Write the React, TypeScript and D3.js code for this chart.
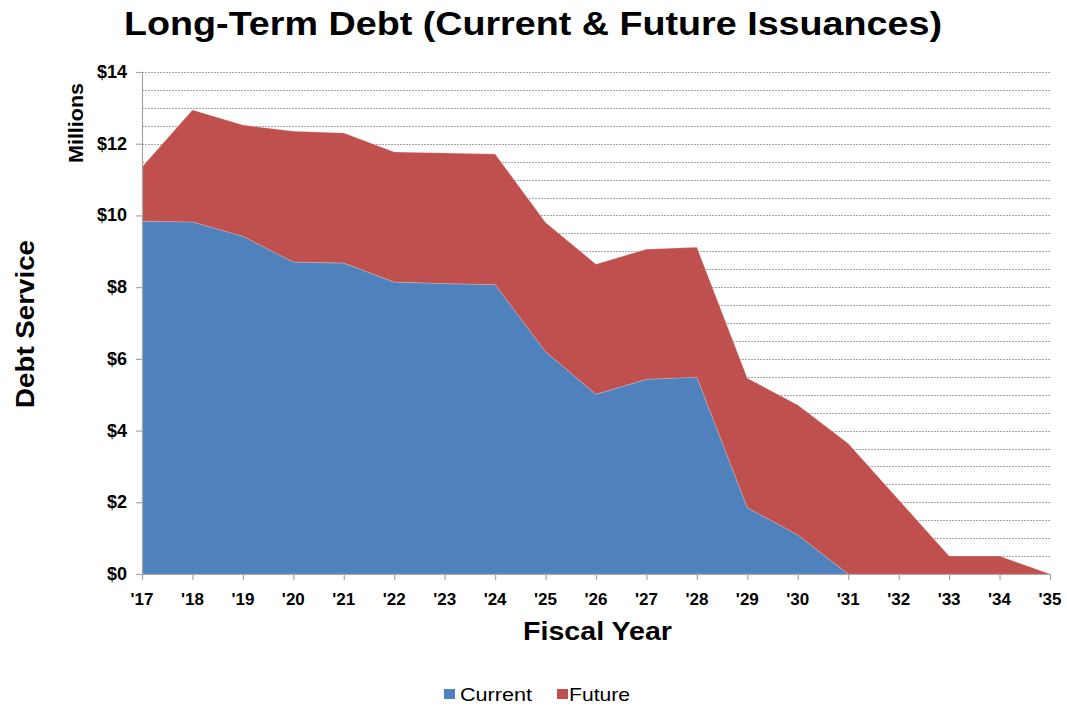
import React from "react";
import * as d3 from "d3";

const years = ["'17", "'18", "'19", "'20", "'21", "'22", "'23", "'24", "'25", "'26", "'27", "'28", "'29", "'30", "'31", "'32", "'33", "'34", "'35"];
const current = [9.84, 9.82, 9.42, 8.7, 8.67, 8.14, 8.1, 8.07, 6.2, 5.01, 5.43, 5.49, 1.85, 1.09, 0, 0, 0, 0, 0];
const future = [1.51, 3.12, 3.1, 3.65, 3.63, 3.63, 3.64, 3.64, 3.6, 3.63, 3.63, 3.62, 3.61, 3.62, 3.64, 2.07, 0.5, 0.5, 0];
const yMajorTicks = [0, 2, 4, 6, 8, 10, 12, 14];
const seriesNames = ["Current", "Future"];
const seriesColors = ["#4F81BD", "#C0504D"];

const W = 1067, H = 706;
const L = 142, R = 1050, T = 72, B = 574;
const FONT = "Liberation Sans, Arial, sans-serif";

export default function App() {
  const x = d3.scalePoint<string>().domain(years).range([L, R]);
  const y = d3.scaleLinear().domain([0, 14]).range([B, T]);
  const rows = years.map((yr, i) => ({ yr, Current: current[i], Future: future[i] }));
  const stack = d3.stack<any>().keys(seriesNames)(rows);
  const area = d3.area<any>()
    .x((d) => x(d.data.yr) as number)
    .y0((d) => y(d[0]))
    .y1((d) => y(d[1]));
  const minor = d3.range(0.5, 14.01, 0.5);

  return (
    <svg width={W} height={H} style={{ position: "absolute", left: 0, top: 0 }} fontFamily={FONT}>
      <rect width={W} height={H} fill="#fff" />
      <text x={533} y={35} textAnchor="middle" fontSize={33} fontWeight="bold" textLength={818} lengthAdjust="spacingAndGlyphs">
        Long-Term Debt (Current &amp; Future Issuances)
      </text>
      {minor.map((v) => (
        <line key={v} x1={L} x2={R} y1={Math.round(y(v)) + 0.5} y2={Math.round(y(v)) + 0.5}
          stroke="#a6a6a6" strokeWidth={1.2} strokeDasharray="2,1" />
      ))}
      {stack.map((s, i) => (
        <path key={s.key} d={area(s) as string} fill={seriesColors[i]} stroke="#e0e0e0" strokeWidth={0.4} strokeOpacity={0.6} />
      ))}
      {/* y axis */}
      <line x1={L + 0.5} x2={L + 0.5} y1={T} y2={B} stroke="#a6a6a6" strokeWidth={1.2} />
      {yMajorTicks.map((v) => (
        <g key={v}>
          <line x1={L - 6} x2={L} y1={y(v) + 0.5} y2={y(v) + 0.5} stroke="#a6a6a6" strokeWidth={1.2} />
          <text x={127} y={y(v) + 6} textAnchor="end" fontSize={18} fontWeight="bold">${v}</text>
        </g>
      ))}
      {/* x axis */}
      <line x1={L} x2={R} y1={B + 0.5} y2={B + 0.5} stroke="#a6a6a6" strokeWidth={1.2} />
      {years.map((yr) => (
        <g key={yr}>
          <line x1={(x(yr) as number) + 0.5} x2={(x(yr) as number) + 0.5} y1={B} y2={B + 6} stroke="#a6a6a6" strokeWidth={1.2} />
          <text x={x(yr) as number} y={605} textAnchor="middle" fontSize={17} fontWeight="bold">{yr}</text>
        </g>
      ))}
      <text x={597.5} y={640} textAnchor="middle" fontSize={26} fontWeight="bold" textLength={149} lengthAdjust="spacingAndGlyphs">Fiscal Year</text>
      <text transform="translate(34,324) rotate(-90)" textAnchor="middle" fontSize={26} fontWeight="bold" textLength={168} lengthAdjust="spacingAndGlyphs">Debt Service</text>
      <text transform="translate(83,123) rotate(-90)" textAnchor="middle" fontSize={20} fontWeight="bold" textLength={80} lengthAdjust="spacingAndGlyphs">Millions</text>
      {/* legend */}
      <g>
        <rect x={444} y={689} width={11} height={10} fill={seriesColors[0]} />
        <text x={460} y={701} fontSize={19} textLength={72} lengthAdjust="spacingAndGlyphs">{seriesNames[0]}</text>
        <rect x={557} y={689} width={11} height={10} fill={seriesColors[1]} />
        <text x={569} y={701} fontSize={19} textLength={61} lengthAdjust="spacingAndGlyphs">{seriesNames[1]}</text>
      </g>
    </svg>
  );
}
